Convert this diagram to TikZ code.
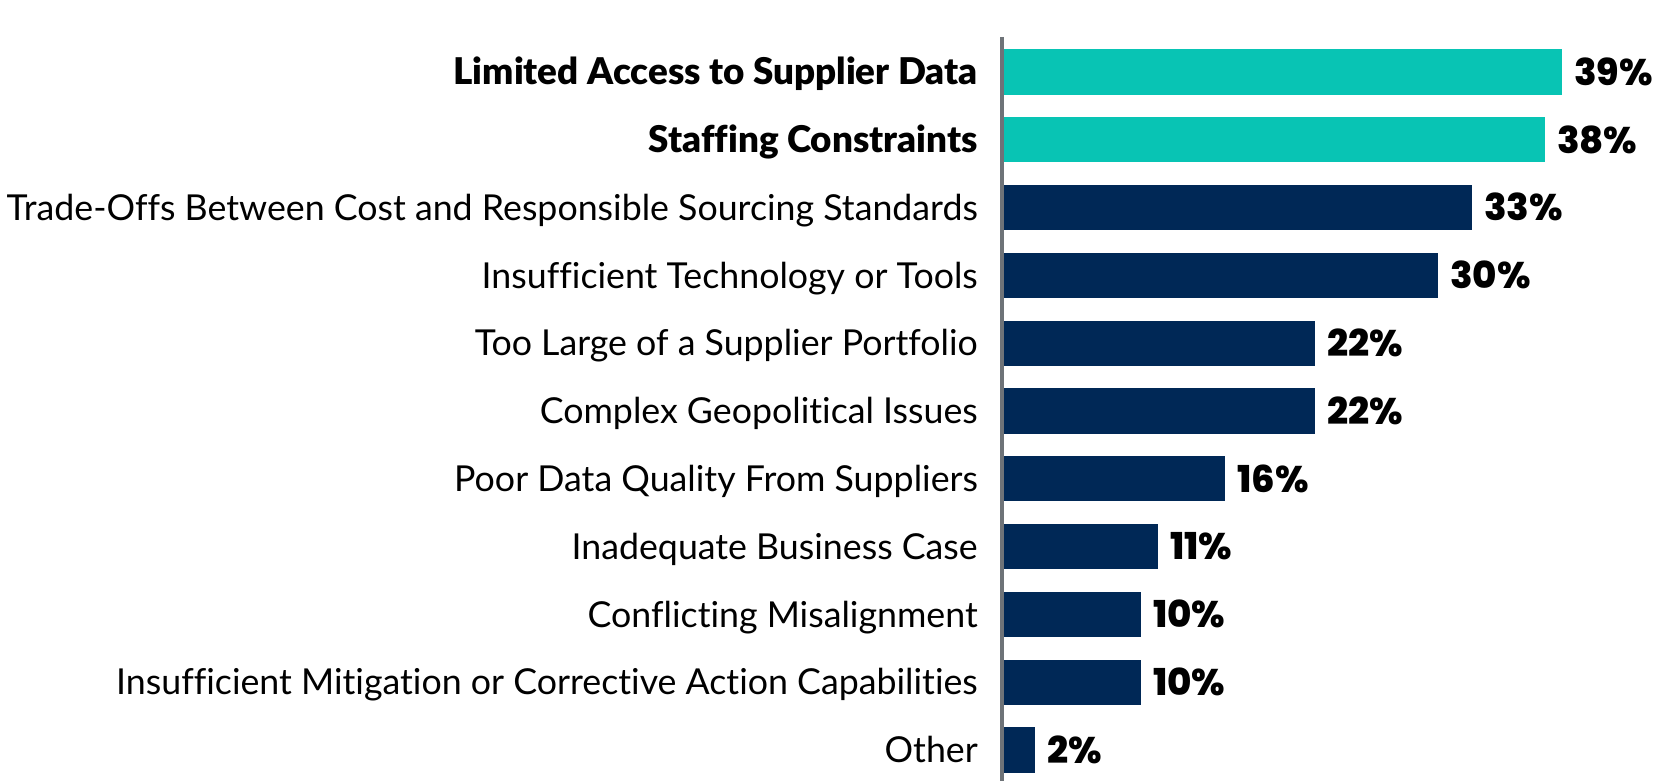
\documentclass[tikz,border=0pt]{standalone}
\usepackage{fontspec}
\setmainfont{Lato}[Ligatures=NoCommon, BoldFont={Lato Black}]
\newfontfamily\pctfont{Poppins}[BoldFont={Poppins ExtraBold}]
\usepackage{xcolor}
\usepackage{tikz}
\usetikzlibrary{positioning}

\definecolor{tealbar}{HTML}{08C4B4}
\definecolor{navybar}{HTML}{002856}
\definecolor{axisgray}{HTML}{6E7378}

\begin{document}
\begin{tikzpicture}[x=0.75pt, y=-0.75pt,
    barbox/.style={rectangle, inner sep=0pt, minimum height=34pt, anchor=west},
    catlabel/.style={inner sep=0pt, anchor=base east, font=\fontsize{26.8}{30}\selectfont},
    catplain/.style={},
    catbold/.style={font=\bfseries\fontsize{27.6}{30}\selectfont},
    pctlabel/.style={inner sep=0pt, anchor=base west, font=\pctfont\bfseries\fontsize{27.8}{30}\selectfont}]
        \useasboundingbox (0,0) rectangle (1671,781);

        % Bars with category labels on the left and values on the right
        \foreach \i/\len/\txt/\val/\col/\st in {
            0/560/Limited Access to Supplier Data/39/tealbar/catbold,
            1/543/Staffing Constraints/38/tealbar/catbold,
            2/470/Trade-Offs Between Cost and Responsible Sourcing Standards/33/navybar/catplain,
            3/436/Insufficient Technology or Tools/30/navybar/catplain,
            4/313/Too Large of a Supplier Portfolio/22/navybar/catplain,
            5/313/Complex Geopolitical Issues/22/navybar/catplain,
            6/223/Poor Data Quality From Suppliers/16/navybar/catplain,
            7/156/Inadequate Business Case/11/navybar/catplain,
            8/139/Conflicting Misalignment/10/navybar/catplain,
            9/139/Insufficient Mitigation or Corrective Action Capabilities/10/navybar/catplain,
            10/33/Other/2/navybar/catplain}
        {
            \node[barbox, fill=\col, minimum width=\len*0.75pt] (bar\i) at (1002, {72+\i*67.8}) {};
            \node[catlabel, \st] (lbl\i) at ([xshift=-18pt, yshift=-9.5pt]bar\i.west) {\txt};
            \node[pctlabel] (pct\i) at ([xshift=8.5pt, yshift=-10pt]bar\i.east) {\val\%};
        }

        % Vertical axis line
        \draw[axisgray, line width=2.3pt] (1002,37) -- (1002,781);
    \end{tikzpicture}
\end{document}
